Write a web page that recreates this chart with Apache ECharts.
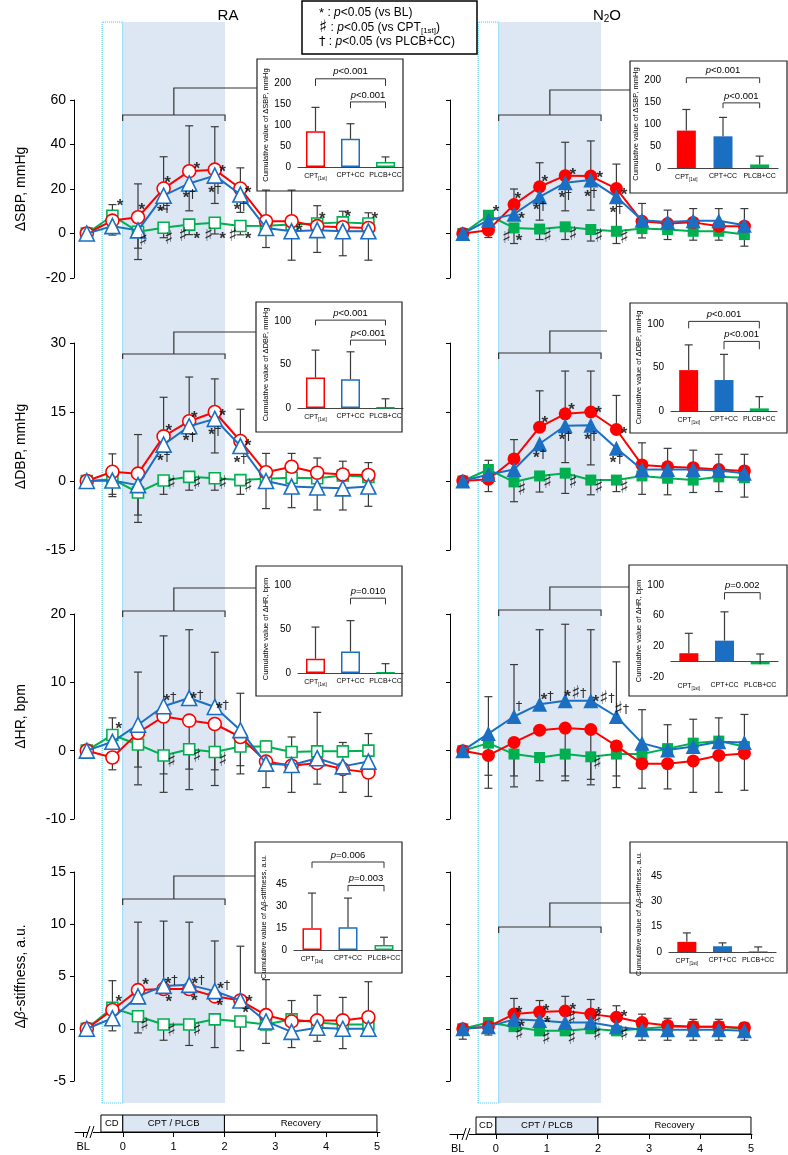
<!DOCTYPE html>
<html>
<head>
<meta charset="UTF-8">
<title>CPT / PLCB responses</title>
<script src="https://cdn.jsdelivr.net/npm/echarts@6/dist/echarts.min.js"></script>
<style>
    html, body { margin: 0; padding: 0; background: #fff; }
    #chart { width: 788px; height: 1155px; }
</style>
</head>
<body>
<div id="chart"></div>
<script>
    // time points (BL, CD, CPT 0.5-2 min, recovery), drawn as index positions
    var idx = [0, 1, 2, 3, 4, 5, 6, 7, 8, 9, 10, 11];
    var groups = ['CPT[1st]', 'CPT+CC', 'PLCB+CC'];
    var none = [0, 0, 0, 0, 0, 0, 0, 0, 0, 0, 0, 0];

    // ---- ΔSBP, RA ----
    var sbpRA_cpt  = [0, 5.8, 7.3, 20.2, 28, 28.7, 20.2, 5.5, 5.5, 3.3, 2.8, 2.5];
    var sbpRA_cc   = [0, 3.3, 1.4, 17, 22.5, 26, 17.5, 2.5, 1, 1.5, 1, 1];
    var sbpRA_plcb = [0, 8, 0.8, 2.6, 4, 4.8, 3.4, 3.5, 4, 4.5, 5, 4.5];
    var sbpRA_cptUp  = [0, 0, 15, 14.3, 20.4, 19.3, 9.3, 14, 14, 0, 0, 0];
    var sbpRA_ccDn   = [0, 4, 8, 6, 12.3, 12.5, 8, 8.8, 13, 10, 11, 13];
    var sbpRA_plcbUp = [0, 5, 0, 0, 0, 0, 0, 0, 0, 8, 5, 4.8];
    var sbpRA_plcbDn = [0, 0, 12.5, 4.5, 4.5, 5, 4, 0, 0, 0, 0, 0];
    // ---- ΔSBP, N2O ----
    var sbpN2O_cpt  = [0, 1.5, 13, 21, 26, 25.8, 20.2, 5.5, 4.5, 5, 3.3, 3.3];
    var sbpN2O_cc   = [0, 6, 8.7, 16.5, 22.8, 24, 16.5, 6, 5.2, 5.7, 5.7, 3.7];
    var sbpN2O_plcb = [0, 8.2, 2.5, 2, 3, 1.8, 1, 2.2, 1.8, 1, 1, -0.5];
    var sbpN2O_cptUp  = [0, 0, 7, 10.8, 15, 15.8, 11, 0, 0, 0, 0, 0];
    var sbpN2O_cptDn  = [0, 3.3, 0, 0, 0, 0, 0, 0, 0, 0, 0, 0];
    var sbpN2O_ccUp   = [0, 0, 0, 0, 0, 0, 0, 7.5, 5.3, 5.5, 5.5, 7.5];
    var sbpN2O_ccDn   = [0, 0, 0, 10.5, 12.6, 13.5, 16, 0, 0, 0, 0, 0];
    var sbpN2O_plcbDn = [0, 0, 7, 4.7, 5.7, 5.2, 5.5, 4.2, 4.5, 4, 4, 5.2];

    // ---- ΔDBP, RA ----
    var dbpRA_cpt  = [0, 2, 1.6, 9.7, 13, 15, 8.7, 1.9, 3.1, 1.8, 1.4, 1.3];
    var dbpRA_cc   = [0, 0.1, -0.9, 7.9, 11.9, 13.5, 7.6, 0, -1.2, -1.4, -1.6, -1.2];
    var dbpRA_plcb = [0, 0.4, -2.5, 0.1, 0.9, 0.6, 0.2, 0.5, 0.7, 0.6, 1.2, 0.9];
    var dbpRA_cptUp  = [0, 3.9, 8.5, 8.5, 9.6, 7.2, 6.9, 4.1, 2.9, 3.2, 2.9, 2.7];
    var dbpRA_ccDn   = [0, 3.5, 6.5, 0, 0, 7.4, 0, 6, 4.6, 4.9, 4.7, 4.3];
    var dbpRA_plcbDn = [0, 3.3, 6.5, 3, 2.9, 2.6, 3.1, 0, 0, 0, 0, 0];
    // ---- ΔDBP, N2O ----
    var dbpN2O_cpt  = [0, 0.4, 4.8, 11.7, 14.6, 15, 11.2, 3.5, 3.1, 2.9, 2.5, 2.2];
    var dbpN2O_cc   = [0, 1.4, 2.5, 8.1, 12, 12.1, 7.1, 2.5, 2.5, 2.5, 2.3, 1.7];
    var dbpN2O_plcb = [0, 2.5, -0.2, 1.1, 1.7, 0.2, 0.2, 1.1, 0.6, 0.2, 0.9, 0.7];
    var dbpN2O_cptUp  = [0, 0, 4.2, 7.9, 9.3, 8.9, 7.4, 4.8, 4, 3.8, 3.3, 3.6];
    var dbpN2O_cptDn  = [0, 2.7, 0, 0, 0, 0, 0, 0, 0, 0, 0, 0];
    var dbpN2O_ccDn   = [0, 0, 0, 0, 8, 8.6, 0, 0, 0, 0, 0, 0];
    var dbpN2O_plcbUp = [0, 2, 0, 0, 0, 0, 0, 0, 0, 0, 0, 0];
    var dbpN2O_plcbDn = [0, 0, 4.3, 3.5, 4.4, 3.2, 2.5, 4, 3.6, 2.7, 3.2, 4.2];

    // ---- ΔHR, RA ----
    var hrRA_cpt  = [0, -1, 2.6, 5, 4.4, 3.9, 2, -1.6, -2.2, -1.8, -2.7, -3.2];
    var hrRA_cc   = [0, 1.3, 3.8, 6.5, 7.7, 6.4, 3, -1.9, -2.1, -1.1, -2.3, -1.6];
    var hrRA_plcb = [0, 2.3, 0.9, -0.7, 0.2, -0.2, 0.6, 0.6, -0.2, -0.1, -0.1, 0];
    var hrRA_cptDn  = [0, 1.8, 5, 8.4, 7.1, 6.7, 4.2, 0, 3.9, 3.1, 3.4, 3.5];
    var hrRA_ccUp   = [0, 0, 7.7, 10.3, 10, 8, 5.4, 0, 0, 0, 0, 0];
    var hrRA_ccDn   = [0, 0, 0, 0, 0, 0, 0, 3.5, 0, 0, 0, 0];
    var hrRA_plcbUp = [0, 2.5, 0, 0, 0, 0, 0, 0.8, 2.2, 5.7, 1.3, 2.5];
    var hrRA_plcbDn = [0, 0, 5.9, 5.4, 5.9, 4.9, 4, 0, 0, 0, 0, 0];
    // ---- ΔHR, N2O ----
    var hrN2O_cpt  = [0, -0.7, 1.2, 3, 3.3, 3.1, 0.7, -1.9, -1.9, -1.5, -0.7, -0.4];
    var hrN2O_cc   = [0, 2.5, 5, 6.8, 7.3, 7.3, 5, 1.1, 0.1, 0.6, 1.3, 1.2];
    var hrN2O_plcb = [0, 1.1, -0.5, -1, -0.5, -0.9, -0.5, -0.5, 0.3, 1.1, 1.4, 0.6];
    var hrN2O_cptDn  = [0, 4.8, 4.9, 0, 7, 7.3, 4.4, 3.6, 3.7, 4.6, 5.4, 5.4];
    var hrN2O_ccUp   = [0, 5.4, 7.6, 10.9, 11.2, 10.4, 8, 4.9, 3.7, 4, 3.5, 4.1];
    var hrN2O_plcbDn = [0, 4.7, 4.8, 3.4, 3.9, 4.1, 4.9, 0, 0, 0, 0, 0];

    // ---- Δβ-stiffness, RA ----
    var bRA_cpt  = [0, 1.8, 3.7, 3.8, 3.8, 3.1, 2.7, 1.3, 0.7, 0.8, 0.8, 1.1];
    var bRA_cc   = [0, 1, 3.1, 4.1, 4.2, 3.6, 2.7, 0.7, -0.3, 0.1, 0, 0];
    var bRA_plcb = [0, 2, 1.2, 0.4, 0.4, 0.9, 0.7, 0.4, 0.9, 0.6, 0.4, 0.4];
    var bRA_cptUp  = [0, 0, 6.5, 6.5, 0, 0, 5.2, 3.4, 2, 2.4, 2.2, 3.4];
    var bRA_ccUp   = [0, 0, 0, 0, 6, 4.8, 0, 0, 0, 0, 0, 0];
    var bRA_ccDn   = [0, 1.2, 0, 0, 0, 0, 0, 2.1, 1.5, 1.3, 1.9, 0.7];
    var bRA_plcbUp = [0, 2.6, 0, 0, 0, 0, 0, 0, 0, 0, 0, 0];
    var bRA_plcbDn = [0, 0, 1.6, 1.5, 2, 2.7, 2.8, 0, 0, 0, 0, 0];
    // ---- Δβ-stiffness, N2O ----
    var bN2O_cpt  = [0, 0.2, 1.4, 1.6, 1.7, 1.4, 1.1, 0.6, 0.3, 0.2, 0.2, 0.1];
    var bN2O_cc   = [0, 0.2, 0.9, 0.8, 0.6, 0.6, 0.2, -0.1, -0.1, -0.1, -0.1, -0.2];
    var bN2O_plcb = [0, 0.6, 0.2, -0.2, -0.2, 0, -0.2, 0, 0.2, 0.2, 0.2, 0];
    var bN2O_cptUp = [0, 0, 1.5, 1.1, 1.4, 1.4, 1.1, 0.8, 0.7, 0.7, 0.7, 0.5];
    var bN2O_ccDn  = [1, 0.8, 0, 0, 0, 0, 0.8, 1, 1, 1, 1, 0.9];

    // significance marks [position, value, text]
    var annSbpRA = [[1.3, 14, '*'], [2.15, 12, '*'], [3.15, 24, '*'], [3, 11, '*†'], [4.3, 30.5, '*'], [4, 17.5, '*†'],
        [5.3, 29, '*'], [5, 19.5, '*†'], [6.3, 19.5, '*'], [6, 12, '*†'], [2.2, -3.3, '♯'], [3.2, -2.7, '♯'],
        [3.75, -1, '♯'], [4.3, -1, '*'], [4.75, -1, '♯'], [5.3, -1, '*'], [5.7, -1, '♯'], [6.3, -1, '*'],
        [8.3, 2.5, '*'], [9.2, 8, '*'], [10.2, 9, '*'], [11.25, 8, '*']];
    var annSbpN2O = [[1.3, 11, '*'], [2.15, 17, '*'], [2.3, 8, '*'], [1.7, -2.2, '♯'], [2.2, -2, '*'],
        [3.2, 24.7, '*'], [3, 12, '*†'], [3.3, -1.8, '♯'], [4.3, 27.7, '*'], [4, 17.2, '*†'], [4.3, -0.7, '♯'],
        [5.35, 26.2, '*'], [5, 17.7, '*†'], [5.3, -1.5, '♯'], [6.3, 18.7, '*'], [6, 10.8, '*†'], [6.3, -2.2, '♯']];
    var annDbpRA = [[3.2, 11.5, '*'], [3, 5, '*†'], [4.2, 14.3, '*'], [4, 9.4, '*†'], [5.3, 14.8, '*'], [5, 10.8, '*†'],
        [6.3, 8.3, '*'], [6, 4.7, '*†'], [3.3, -0.7, '♯'], [4.3, -0.7, '♯'], [5.3, -0.7, '♯'], [6.3, -1.3, '♯']];
    var annDbpN2O = [[3.2, 13.3, '*'], [3, 5.8, '*†'], [4.25, 16.1, '*'], [4, 9.6, '*†'], [5.3, 15.5, '*'], [5, 9.6, '*†'],
        [6.3, 11, '*'], [6, 4.7, '*†'], [2.3, -1.9, '♯'], [3.3, -0.5, '♯'], [4.3, -0.5, '♯'], [5.3, -1.6, '♯'], [6.3, -1.6, '♯']];
    var annHrRA = [[1.25, 3.7, '*'], [3.25, 7.7, '*†'], [4.3, 8, '*†'], [5.3, 6.6, '*†'],
        [3.3, -1.6, '♯'], [4.3, -1, '♯'], [5.3, -1.5, '♯']];
    var annHrN2O = [[2.2, 6.5, '†'], [3.3, 7.9, '*†'], [4.4, 8.3, '*♯†'], [5.5, 7.6, '*♯†'], [6.2, 6, '♯†'], [5.25, -1.9, '♯']];
    var annBRA = [[1.25, 2.9, '*'], [2.3, 4.5, '*'], [3.2, 2.9, '*'], [3.3, 4.6, '*†'], [4.2, 3, '*'], [4.35, 4.6, '*†'],
        [5.2, 2.5, '*'], [5.35, 4.1, '*†'], [6.35, 2.9, '*'], [6.2, 1.8, '*'],
        [2.25, 0.3, '♯'], [3.3, -0.2, '♯'], [4.3, -0.2, '♯']];
    var annBN2O = [[2.2, 1.8, '*'], [3.25, 2, '*'], [4.3, 2.1, '*'], [5.3, 1.75, '*'], [6.3, 1.4, '*'], [2.3, 0.5, '*'], [3.3, 0.9, '*'],
        [2.2, -0.6, '♯'], [3.25, -1, '♯'], [4.25, -1, '♯'], [4.25, 0.9, '♯'], [5.25, 0.9, '♯'], [5.25, -0.6, '♯'], [6.3, -0.6, '♯']];

    // cumulative values (insets) and their SD
    var sumSbpRA = [85, 67, 12],     sdSbpRA = [57, 36, 12];
    var sumSbpN2O = [85, 72, 8],     sdSbpN2O = [48, 43, 19];
    var sumDbpRA = [35, 33, 0.6],    sdDbpRA = [31.5, 31.6, 10];
    var sumDbpN2O = [47, 35.6, 3],   sdDbpN2O = [29, 29.5, 13.5];
    var sumHrRA = [16.2, 24.5, 0.4], sdHrRA = [36, 35, 10.2];
    var sumHrN2O = [11, 27.4, -3.5], sdHrN2O = [26, 37.6, 13.5];
    var sumBRA = [14.8, 15.5, 3.4],  sdBRA = [24, 19.9, 5.3];
    var sumBN2O = [6, 3.4, 0.4],     sdBN2O = [5.3, 2, 2.6];

    // p-value brackets [from group, to group, level, leg end, text]
    var brSbpRA = [[0, 2, 210, 193, 'p<0.001'], [1, 2, 155, 140, 'p<0.001']];
    var brSbpN2O = [[0, 2, 205, 193, 'p<0.001'], [1, 2, 148, 136, 'p<0.001']];
    var brDbpRA = [[0, 2, 101, 95, 'p<0.001'], [1, 2, 78, 72, 'p<0.001']];
    var brDbpN2O = [[0, 2, 103, 95, 'p<0.001'], [1, 2, 80, 71, 'p<0.001']];
    var brHrRA = [[1, 2, 85, 78, 'p=0.010']];
    var brHrN2O = [[1, 2, 90, 81, 'p=0.002']];
    var brBRA = [[0, 2, 60, 56, 'p=0.006'], [1, 2, 44, 40, 'p=0.003']];
    var brBN2O = [];

    // ---------- layout ----------
    var FONT = '"Liberation Sans", Arial, sans-serif';
    var ERR = '#3a3a3a';
    var KEYS = ['cpt', 'cc', 'plcb'];
    var COLORS = {cpt: '#ff0000', cc: '#1b6fc2', plcb: '#00b050'};
    var SYMBOL = {cpt: 'circle', cc: 'triangle', plcb: 'rect'};
    var SIZE = [{cpt: 13, cc: 15, plcb: 11}, {cpt: 13, cc: 15, plcb: 11}];
    var XMIN = -0.5, XMAX = 12, MAIN_W = 320;
    var BAND = [1.4, 5.4], CD = [0.6, 1.4];
    var COLS = [{left: 74}, {left: 450}];
    var ROWS = [
        {top: 100, bottom: 278, min: -20, max: 60, interval: 20, name: 'ΔSBP, mmHg', inset: 'ΔSBP, mmHg'},
        {top: 343, bottom: 550, min: -15, max: 30, interval: 15, name: 'ΔDBP, mmHg', inset: 'ΔDBP, mmHg'},
        {top: 614, bottom: 819, min: -10, max: 20, interval: 10, name: 'ΔHR, bpm', inset: 'ΔHR, bpm'},
        {top: 872, bottom: 1081, min: -5, max: 15, interval: 5, name: 'Δ{i|β}-stiffness, a.u.', inset: 'Δ{i|β}-stiffness, a.u.'}
    ];
    // inset grids [left, top, width, height] and axis ranges
    var INSET = [
        [{g: [298, 83, 105, 84], min: 0, max: 200, iv: 50}, {g: [668, 80, 110, 88], min: 0, max: 200, iv: 50}],
        [{g: [298, 321, 105, 87], min: 0, max: 100, iv: 50}, {g: [671, 324, 106, 87], min: 0, max: 100, iv: 50}],
        [{g: [298, 585, 105, 88], min: 0, max: 100, iv: 50}, {g: [671, 585, 107, 92], min: -20, max: 100, iv: 40}],
        [{g: [294, 884, 108, 66], min: 0, max: 45, iv: 15}, {g: [669, 876, 107, 76], min: 0, max: 45, iv: 15}]
    ];
    var BOX = [
        [[257, 59, 146, 132], [630, 61, 157, 132]],
        [[256, 302, 146, 130], [630, 303, 157, 130]],
        [[256, 566, 146, 130], [629, 565, 158, 131]],
        [[255, 842, 147, 131], [630, 842, 157, 131]]
    ];
    var CONN = [
        [{bt: 115, leg: 121, stem: 88, end: 257}, {bt: 115, leg: 121, stem: 90, end: 630}],
        [{bt: 354, leg: 359, stem: 332, end: 256}, {bt: 353, leg: 359, stem: 331, end: 607}],
        [{bt: 611, leg: 617, stem: 588, end: 256}, {bt: 610, leg: 616, stem: 587, end: 629}],
        [{bt: 899, leg: 905, stem: 876, end: 255}, {bt: 927, leg: 933, stem: 903, end: 630}]
    ];
    var TIMELINES = [
        {left: 75, width: 305, top: 1115, min: -0.94, max: 5.06, cd: -0.43, bl: -0.78, brk: 91},
        {left: 450, width: 302, top: 1117, min: -0.9, max: 5.02, cd: -0.39, bl: -0.75, brk: 467}
    ];

    var panels = [
        {row: 0, col: 0, cpt: sbpRA_cpt, cc: sbpRA_cc, plcb: sbpRA_plcb,
            err: {cpt: [sbpRA_cptUp, none], cc: [none, sbpRA_ccDn], plcb: [sbpRA_plcbUp, sbpRA_plcbDn]},
            ann: annSbpRA, sum: sumSbpRA, sd: sdSbpRA, br: brSbpRA},
        {row: 0, col: 1, cpt: sbpN2O_cpt, cc: sbpN2O_cc, plcb: sbpN2O_plcb,
            err: {cpt: [sbpN2O_cptUp, sbpN2O_cptDn], cc: [sbpN2O_ccUp, sbpN2O_ccDn], plcb: [none, sbpN2O_plcbDn]},
            ann: annSbpN2O, sum: sumSbpN2O, sd: sdSbpN2O, br: brSbpN2O},
        {row: 1, col: 0, cpt: dbpRA_cpt, cc: dbpRA_cc, plcb: dbpRA_plcb,
            err: {cpt: [dbpRA_cptUp, none], cc: [none, dbpRA_ccDn], plcb: [none, dbpRA_plcbDn]},
            ann: annDbpRA, sum: sumDbpRA, sd: sdDbpRA, br: brDbpRA},
        {row: 1, col: 1, cpt: dbpN2O_cpt, cc: dbpN2O_cc, plcb: dbpN2O_plcb,
            err: {cpt: [dbpN2O_cptUp, dbpN2O_cptDn], cc: [none, dbpN2O_ccDn], plcb: [dbpN2O_plcbUp, dbpN2O_plcbDn]},
            ann: annDbpN2O, sum: sumDbpN2O, sd: sdDbpN2O, br: brDbpN2O},
        {row: 2, col: 0, cpt: hrRA_cpt, cc: hrRA_cc, plcb: hrRA_plcb,
            err: {cpt: [none, hrRA_cptDn], cc: [hrRA_ccUp, hrRA_ccDn], plcb: [hrRA_plcbUp, hrRA_plcbDn]},
            ann: annHrRA, sum: sumHrRA, sd: sdHrRA, br: brHrRA},
        {row: 2, col: 1, cpt: hrN2O_cpt, cc: hrN2O_cc, plcb: hrN2O_plcb,
            err: {cpt: [none, hrN2O_cptDn], cc: [hrN2O_ccUp, none], plcb: [none, hrN2O_plcbDn]},
            ann: annHrN2O, sum: sumHrN2O, sd: sdHrN2O, br: brHrN2O},
        {row: 3, col: 0, cpt: bRA_cpt, cc: bRA_cc, plcb: bRA_plcb,
            err: {cpt: [bRA_cptUp, none], cc: [bRA_ccUp, bRA_ccDn], plcb: [bRA_plcbUp, bRA_plcbDn]},
            ann: annBRA, sum: sumBRA, sd: sdBRA, br: brBRA},
        {row: 3, col: 1, cpt: bN2O_cpt, cc: bN2O_cc, plcb: bN2O_plcb,
            err: {cpt: [bN2O_cptUp, none], cc: [none, bN2O_ccDn], plcb: [none, none]},
            ann: annBN2O, sum: sumBN2O, sd: sdBN2O, br: brBN2O}
    ];

    var grids = [], xAxes = [], yAxes = [], series = [], graphics = [];

    function addGrid(g, xa, ya) {
        grids.push(g);
        xa.gridIndex = grids.length - 1;
        ya.gridIndex = grids.length - 1;
        xAxes.push(xa);
        yAxes.push(ya);
        return grids.length - 1;
    }

    function px(col, x) {
        return COLS[col].left + (x - XMIN) / (XMAX - XMIN) * MAIN_W;
    }

    // whisker with cap, up and/or down from the point
    function errorBarItem(params, api) {
        var x = api.value(0), v = api.value(1), up = api.value(2), dn = api.value(3);
        var base = api.coord([x, v]);
        var kids = [];
        [[up, 1], [dn, -1]].forEach(function (e) {
            if (!(e[0] > 0)) return;
            var end = api.coord([x, v + e[1] * e[0]]);
            kids.push({type: 'line', shape: {x1: base[0], y1: base[1], x2: end[0], y2: end[1]}, style: {stroke: ERR, lineWidth: 1.2}});
            kids.push({type: 'line', shape: {x1: end[0] - 4, y1: end[1], x2: end[0] + 4, y2: end[1]}, style: {stroke: ERR, lineWidth: 1.2}});
        });
        return {type: 'group', children: kids};
    }

    var annRich = {
        s: {fontSize: 17, fontWeight: 'bold', color: '#000', fontFamily: FONT, padding: [7, 0, 0, 0]},
        h: {fontSize: 19, color: '#000', fontFamily: 'DejaVu Sans, sans-serif'},
        t: {fontSize: 13, color: '#000', fontFamily: 'DejaVu Sans, sans-serif'}
    };

    // shaded CPT band + dotted CD box behind each column
    COLS.forEach(function (c) {
        var gi = addGrid({left: c.left, top: 22, width: MAIN_W, height: 1081},
            {type: 'value', min: XMIN, max: XMAX, show: false},
            {type: 'value', min: 0, max: 1, show: false});
        series.push({
            type: 'line', xAxisIndex: gi, yAxisIndex: gi, data: [[-1, -1]], showSymbol: false, silent: true, z: 0,
            markArea: {
                silent: true,
                data: [
                    [{xAxis: BAND[0], itemStyle: {color: '#dde7f3'}}, {xAxis: BAND[1]}],
                    [{xAxis: CD[0], itemStyle: {color: 'rgba(0,0,0,0)', borderColor: '#3cc3f0', borderWidth: 1, borderType: 'dotted'}}, {xAxis: CD[1]}]
                ]
            }
        });
    });

    panels.forEach(function (p) {
        var r = ROWS[p.row], c = COLS[p.col], filled = p.col === 1;
        var gi = addGrid({left: c.left, top: r.top, width: MAIN_W, height: r.bottom - r.top},
            {type: 'value', min: XMIN, max: XMAX, show: false},
            {
                type: 'value', min: r.min, max: r.max, interval: r.interval, z: 5,
                axisLine: {show: true, onZero: false, lineStyle: {color: '#000', width: 1}},
                axisTick: {show: true, length: 4, lineStyle: {color: '#000'}},
                axisLabel: {show: !filled, fontSize: 14, color: '#000', margin: 8, fontFamily: FONT},
                splitLine: {show: false},
                name: filled ? '' : r.name, nameLocation: 'middle', nameRotate: 90, nameGap: 46,
                nameTextStyle: {fontSize: 14, color: '#000', fontFamily: FONT,
                    rich: {i: {fontStyle: 'italic', fontSize: 14, color: '#000', fontFamily: FONT}}}
            });
        ['plcb', 'cpt', 'cc'].forEach(function (k) {
            series.push({
                type: 'custom', xAxisIndex: gi, yAxisIndex: gi, z: 3, silent: true, clip: false,
                renderItem: errorBarItem,
                data: idx.map(function (x, i) { return [x, p[k][i], p.err[k][0][i], p.err[k][1][i]]; })
            });
        });
        ['plcb', 'cpt', 'cc'].forEach(function (k, order) {
            series.push({
                type: 'line', xAxisIndex: gi, yAxisIndex: gi, z: 10 + order, silent: true,
                data: idx.map(function (x, i) { return [x, p[k][i]]; }),
                symbol: SYMBOL[k], symbolSize: SIZE[p.col][k], showSymbol: true,
                lineStyle: {color: COLORS[k], width: 2},
                itemStyle: filled ? {color: COLORS[k], borderWidth: 0}
                    : {color: '#fff', borderColor: COLORS[k], borderWidth: 1.6}
            });
        });
        series.push({
            type: 'scatter', xAxisIndex: gi, yAxisIndex: gi, z: 20, silent: true, symbolSize: 0,
            data: p.ann.map(function (a) { return {value: [a[0], a[1]], name: a[2]}; }),
            label: {
                show: true, position: 'inside', rich: annRich,
                formatter: function (d) {
                    return d.name.split('').map(function (ch) {
                        if (ch === '*') return '{s|*}';
                        if (ch === '♯') return '{h|♯}';
                        return '{t|' + ch + '}';
                    }).join('');
                }
            }
        });

        // inset bar chart
        var ins = INSET[p.row][p.col];
        var ii = addGrid({left: ins.g[0], top: ins.g[1], width: ins.g[2], height: ins.g[3]},
            {
                type: 'category', data: groups,
                axisLine: {show: true, onZero: true, lineStyle: {color: '#444', width: 1.2}},
                axisTick: {show: false},
                axisLabel: {
                    interval: 0, fontSize: 7, color: '#000', margin: 5, fontFamily: FONT,
                    formatter: function (v) { return v === 'CPT[1st]' ? 'CPT{sub|[1st]}' : v; },
                    rich: {sub: {fontSize: 4.5, verticalAlign: 'bottom', padding: [4, 0, 0, 0], color: '#000', fontFamily: FONT}}
                }
            },
            {
                type: 'value', min: ins.min, max: ins.max, interval: ins.iv,
                axisLine: {show: false}, axisTick: {show: false}, splitLine: {show: false},
                axisLabel: {fontSize: 10, color: '#000', margin: 7, fontFamily: FONT},
                name: 'Cumulative value of ' + r.inset, nameLocation: 'middle', nameRotate: 90, nameGap: 26,
                nameTextStyle: {fontSize: 7.5, color: '#000', fontFamily: FONT,
                    rich: {i: {fontStyle: 'italic', fontSize: 7.5, color: '#000', fontFamily: FONT}}}
            });
        series.push({
            type: 'bar', xAxisIndex: ii, yAxisIndex: ii, barWidth: 19, z: 5, silent: true,
            data: p.sum.map(function (v, i) {
                var k = KEYS[i];
                return {value: v, itemStyle: filled ? {color: COLORS[k]}
                    : {color: '#fff', borderColor: COLORS[k], borderWidth: 1.5}};
            })
        });
        series.push({
            type: 'custom', xAxisIndex: ii, yAxisIndex: ii, z: 6, silent: true, clip: false,
            renderItem: errorBarItem,
            data: p.sum.map(function (v, i) { return [i, v, p.sd[i], 0]; })
        });
        if (p.br.length) {
            series.push({
                type: 'custom', xAxisIndex: ii, yAxisIndex: ii, z: 6, silent: true, clip: false,
                data: p.br.map(function (b) { return [b[0], b[1], b[2], b[3]]; }),
                renderItem: function (params, api) {
                    var b = p.br[params.dataIndex];
                    var a0 = api.coord([b[0], b[3]]), a1 = api.coord([b[0], b[2]]);
                    var c1 = api.coord([b[1], b[2]]), c0 = api.coord([b[1], b[3]]);
                    return {
                        type: 'group', children: [
                            {type: 'polyline', shape: {points: [a0, a1, c1, c0]}, style: {stroke: '#333', lineWidth: 1, fill: 'none'}},
                            {type: 'text', x: (a1[0] + c1[0]) / 2, y: a1[1] - 2,
                                style: {text: '{i|p}' + b[4].slice(1), fontSize: 9.5, fill: '#000', fontFamily: FONT,
                                    align: 'center', verticalAlign: 'bottom',
                                    rich: {i: {fontStyle: 'italic', fontSize: 9.5, fontFamily: FONT, fill: '#000'}}}}
                        ]
                    };
                }
            });
        }

        // inset frame and connector bracket
        var bx = BOX[p.row][p.col];
        graphics.push({type: 'rect', z: 50, shape: {x: bx[0], y: bx[1], width: bx[2], height: bx[3]},
            style: {fill: 'none', stroke: '#222', lineWidth: 1.2}, silent: true});
        var cn = CONN[p.row][p.col];
        var xa = px(p.col, BAND[0]), xb = px(p.col, BAND[1]), xm = px(p.col, (BAND[0] + BAND[1]) / 2);
        graphics.push({type: 'polyline', z: 50, shape: {points: [[xa, cn.leg], [xa, cn.bt], [xb, cn.bt], [xb, cn.leg]]},
            style: {stroke: '#333', lineWidth: 1.2, fill: 'none'}, silent: true});
        graphics.push({type: 'polyline', z: 50, shape: {points: [[xm, cn.bt], [xm, cn.stem], [cn.end, cn.stem]]},
            style: {stroke: '#333', lineWidth: 1.2, fill: 'none'}, silent: true});
    });

    // time line at the bottom
    TIMELINES.forEach(function (t) {
        var ticks = [t.bl, 0, 1, 2, 3, 4, 5];
        var gi = addGrid({left: t.left, top: t.top, width: t.width, height: 17},
            {
                type: 'value', min: t.min, max: t.max, position: 'bottom',
                axisLine: {show: true, onZero: false, lineStyle: {color: '#000', width: 1}},
                axisTick: {show: true, customValues: ticks, length: 5, lineStyle: {color: '#000'}},
                axisLabel: {show: true, customValues: ticks, fontSize: 11, color: '#000', margin: 9, fontFamily: FONT,
                    formatter: function (v) { return v < -0.5 ? 'BL' : String(Math.round(v)); }},
                splitLine: {show: false}
            },
            {type: 'value', min: 0, max: 1, show: false});
        series.push({
            type: 'line', xAxisIndex: gi, yAxisIndex: gi, data: [[-5, -5]], showSymbol: false, silent: true, z: 2,
            markArea: {
                silent: true,
                itemStyle: {color: '#fff', borderColor: '#000', borderWidth: 1},
                label: {show: true, position: 'inside', fontSize: 9.5, color: '#000', fontFamily: FONT},
                data: [
                    [{name: 'CD', xAxis: t.cd}, {xAxis: 0}],
                    [{name: 'CPT / PLCB', xAxis: 0, itemStyle: {color: '#dde7f3'}}, {xAxis: 2}],
                    [{name: 'Recovery', xAxis: 2}, {xAxis: 5}]
                ]
            }
        });
        var y0 = t.top + 17;
        graphics.push({type: 'rect', shape: {x: t.brk - 3, y: y0 - 2, width: 5, height: 4}, style: {fill: '#fff'}, z: 100, silent: true});
        graphics.push({type: 'line', shape: {x1: t.brk - 5, y1: y0 + 6, x2: t.brk - 1, y2: y0 - 6}, style: {stroke: '#000', lineWidth: 1}, z: 101, silent: true});
        graphics.push({type: 'line', shape: {x1: t.brk - 1, y1: y0 + 6, x2: t.brk + 3, y2: y0 - 6}, style: {stroke: '#000', lineWidth: 1}, z: 101, silent: true});
    });

    // titles and significance key
    var subRich = {
        i: {fontStyle: 'italic', fontSize: 12, fontFamily: FONT, fill: '#000'},
        sub: {fontSize: 8, fontFamily: FONT, fill: '#000', padding: [6, 0, 0, 0]},
        s: {fontSize: 13, fontFamily: FONT, fill: '#000'},
        h: {fontSize: 17, fontFamily: 'DejaVu Sans, sans-serif', fill: '#000'},
        t: {fontSize: 13, fontFamily: 'DejaVu Sans, sans-serif', fill: '#000'}
    };
    graphics.push({type: 'text', x: 228, y: 16, z: 50, silent: true,
        style: {text: 'RA', fontSize: 15, fontFamily: FONT, fill: '#000', align: 'center', verticalAlign: 'middle'}});
    graphics.push({type: 'text', x: 607, y: 16, z: 50, silent: true,
        style: {text: 'N{sub|2}O', fontSize: 15, fontFamily: FONT, fill: '#000', align: 'center', verticalAlign: 'middle',
            rich: {sub: {fontSize: 10, fontFamily: FONT, fill: '#000', padding: [7, 0, 0, 0]}}}});
    graphics.push({type: 'rect', z: 50, shape: {x: 302, y: 1, width: 175, height: 53},
        style: {fill: '#fff', stroke: '#000', lineWidth: 1.5}, silent: true});
    ['{s|*} : {i|p}<0.05 (vs BL)', '{h|♯} : {i|p}<0.05 (vs CPT{sub|[1st]})', '{t|†} : {i|p}<0.05 (vs PLCB+CC)'].forEach(function (txt, i) {
        graphics.push({type: 'text', x: 319, y: 13 + i * 14.5, z: 51, silent: true,
            style: {text: txt, fontSize: 12, fontFamily: FONT, fill: '#000', align: 'left', verticalAlign: 'middle', rich: subRich}});
    });

    var chart = echarts.init(document.getElementById('chart'), null, {renderer: 'canvas'});
    chart.setOption({
        animation: false,
        backgroundColor: '#fff',
        textStyle: {fontFamily: FONT},
        grid: grids,
        xAxis: xAxes,
        yAxis: yAxes,
        series: series,
        graphic: {elements: graphics}
    });
</script>
</body>
</html>
